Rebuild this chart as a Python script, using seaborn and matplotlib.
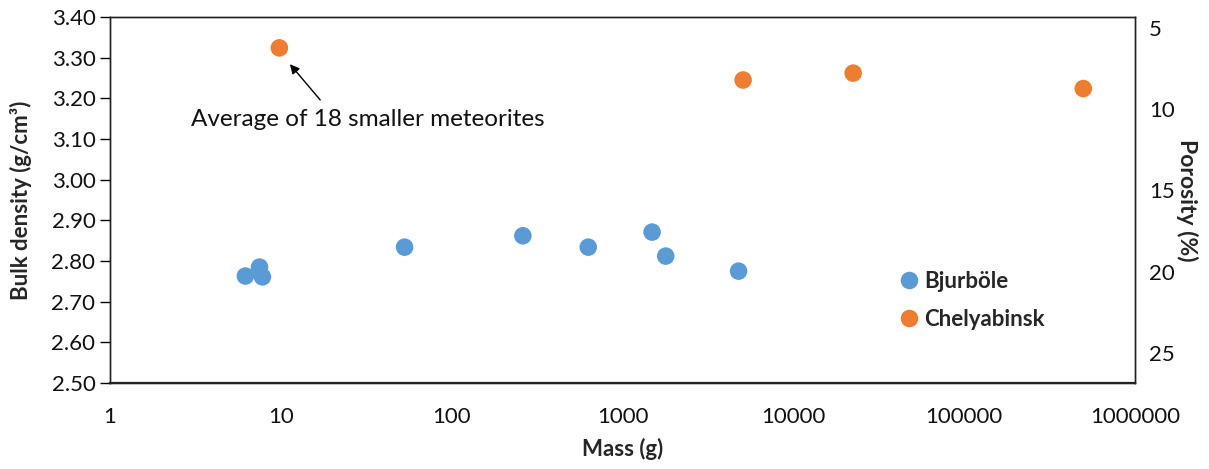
import matplotlib
matplotlib.use("Agg")
import matplotlib.pyplot as plt
import seaborn as sns
import pandas as pd
from matplotlib.ticker import FixedLocator, FixedFormatter, NullLocator

# values
bjur_mass = [6.2, 7.5, 7.8, 53, 261, 630, 1490, 1790, 4780]
bjur_density = [2.763, 2.785, 2.761, 2.834, 2.862, 2.834, 2.871, 2.812, 2.775]
chel_mass = [9.8, 5080, 22400, 498000]
chel_density = [3.324, 3.245, 3.262, 3.224]

x_ticks = [1, 10, 100, 1000, 10000, 100000, 1000000]
x_labels = ["1", "10", "100", "1000", "10000", "100000", "1000000"]
y_ticks = [2.50, 2.60, 2.70, 2.80, 2.90, 3.00, 3.10, 3.20, 3.30, 3.40]
por_ticks = [5, 10, 15, 20, 25]

df = pd.DataFrame({
    "mass": bjur_mass + chel_mass,
    "density": bjur_density + chel_density,
    "meteorite": ["Bjurböle"] * len(bjur_mass) + ["Chelyabinsk"] * len(chel_mass),
})

sns.set_style("white")
plt.rcParams["font.family"] = ["Lato", "DejaVu Sans"]

fig = plt.figure(figsize=(12.09, 4.69), dpi=100)
ax = fig.add_axes([0.091, 0.1834, 0.8478, 0.7804])

sns.scatterplot(data=df, x="mass", y="density", hue="meteorite",
                palette={"Bjurböle": "#5B9BD5", "Chelyabinsk": "#ED7D31"},
                s=160, edgecolor="none", ax=ax)

ax.set_xscale("log")
ax.set_xlim(1, 1000000)
ax.set_ylim(2.50, 3.40)
ax.xaxis.set_major_locator(FixedLocator(x_ticks))
ax.xaxis.set_major_formatter(FixedFormatter(x_labels))
ax.xaxis.set_minor_locator(NullLocator())
ax.set_yticks(y_ticks)
ax.set_yticklabels([f"{v:.2f}" for v in y_ticks])
ax.tick_params(axis="both", direction="out", length=7, width=1, color="black",
               labelsize=16, colors="#111111")
ax.tick_params(axis="x", pad=10)
for sp in ax.spines.values():
    sp.set_color("#222222")
    sp.set_linewidth(1.0)
ax.spines["bottom"].set_linewidth(1.6)

ax.set_xlabel("Mass (g)", fontsize=16, fontweight="bold", labelpad=8)
ax.set_ylabel("Bulk density (g/cm³)", fontsize=16, fontweight="bold", labelpad=14)

# arrow and note
ax.annotate("", xy=(11.3, 3.284), xytext=(17.0, 3.196),
            arrowprops=dict(arrowstyle="-|>", color="black", lw=1, shrinkA=0, shrinkB=0,
                            mutation_scale=14))
ax.text(32.4, 3.147, "Average of 18 smaller meteorites", fontsize=17.5,
        ha="center", va="center", color="#111111")

ax2 = ax.twinx()
ax2.set_ylim(26.84, 4.33)
ax2.set_yticks(por_ticks)
ax2.tick_params(axis="y", length=0, labelsize=16, colors="#111111", pad=10)
ax2.set_ylabel("Porosity (%)", fontsize=16.5, fontweight="bold", rotation=270, labelpad=17)
for sp in ax2.spines.values():
    sp.set_color("#222222")
    sp.set_linewidth(1.0)

ax.legend(loc="upper left", bbox_to_anchor=(0.747, 0.36), frameon=False,
          prop={"weight": "bold", "size": 16}, handletextpad=0.1, labelspacing=0.75,
          markerscale=1.0, handlelength=1.2)

fig.savefig("out.png", dpi=100)
